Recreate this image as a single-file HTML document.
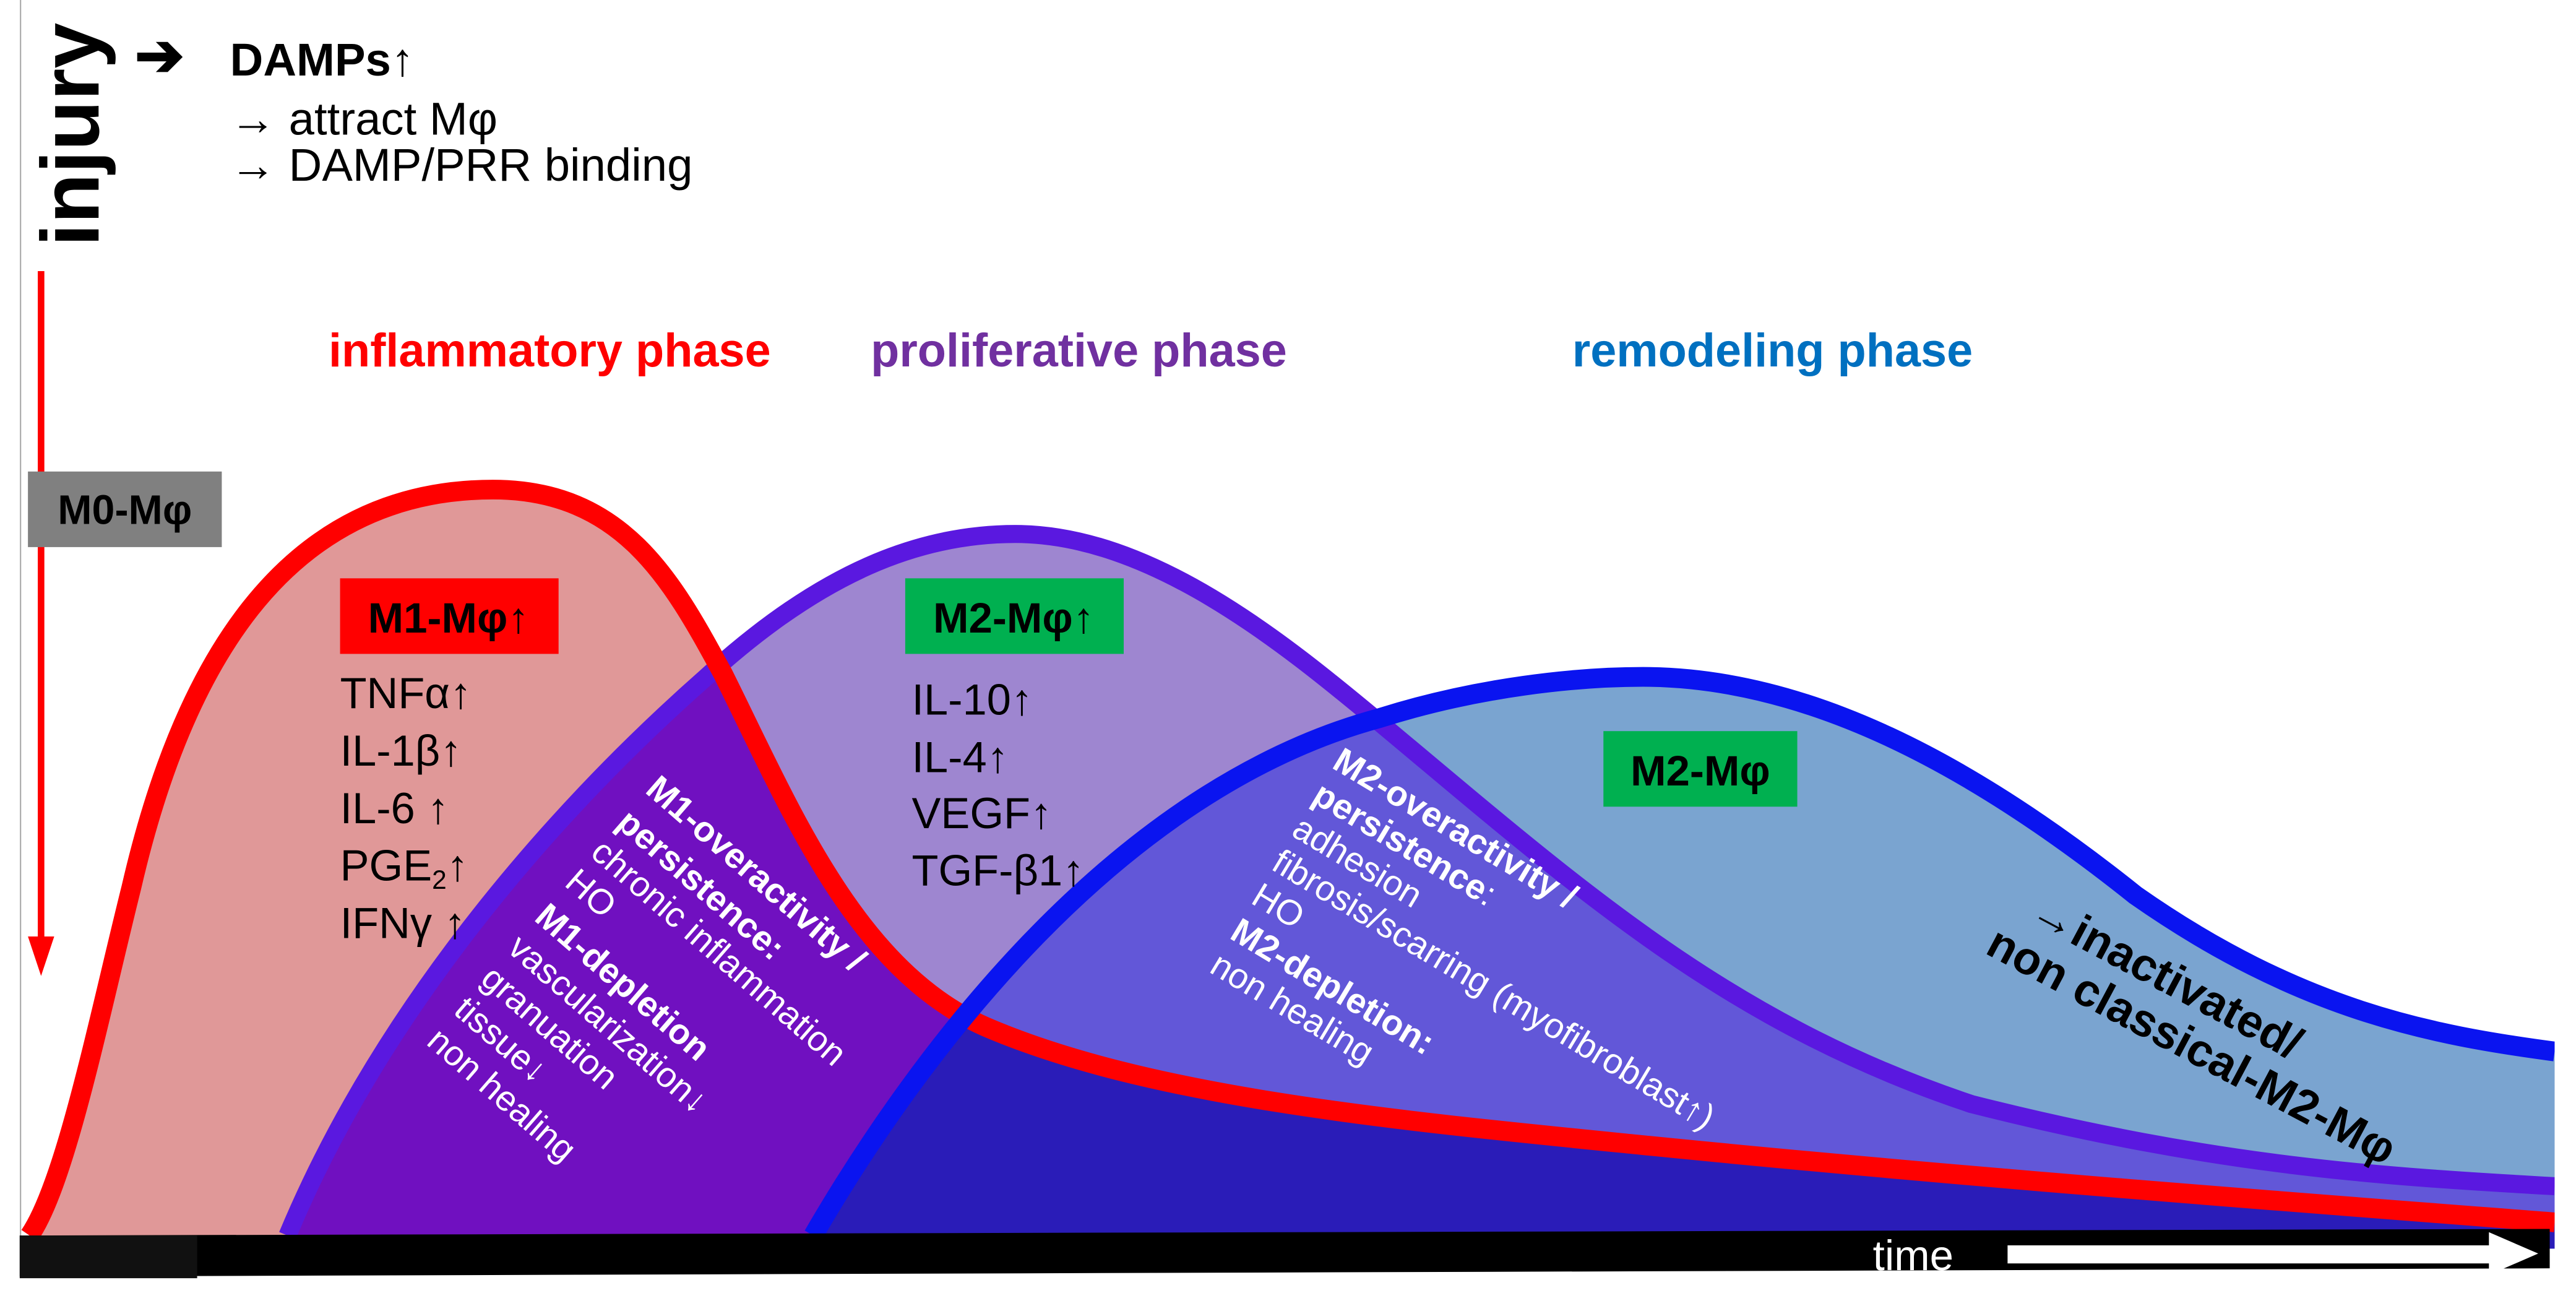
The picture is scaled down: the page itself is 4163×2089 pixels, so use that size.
<!DOCTYPE html>
<html><head><meta charset="utf-8"><style>
html,body{margin:0;padding:0;background:#fff;}
svg{display:block;}
text{font-family:"Liberation Sans",Arial,sans-serif;}
</style></head><body>
<svg width="4163" height="2089" viewBox="0 0 1568 787" preserveAspectRatio="none" xmlns="http://www.w3.org/2000/svg">
<defs>
<path id="red" d="M18,752 C40,720 60,620 80,540 C110,410 170,298 300,298 C380,298 410,355 440,410 C480,490 520,590 600,625 C700,668 850,682 1000,697 C1200,717 1400,732 1555,744 L1555,760 L18,760 Z"/>
<path id="pur" d="M175,760 L175,752 C230,620 330,500 430,412 C500,348 560,325 618,325 C700,325 780,390 840,440 C960,540 1050,622 1200,672 C1350,710 1450,716 1555,722 L1555,760 Z"/>
<path id="blu" d="M495,760 L495,752 C560,640 680,480 840,437 C900,418 960,412 1000,412 C1100,412 1200,465 1300,545 C1400,615 1480,630 1555,640 L1555,760 Z"/>
<clipPath id="cRed"><use href="#red"/></clipPath>
<clipPath id="cPur"><use href="#pur"/></clipPath>
</defs>
<line x1="12.5" y1="0" x2="12.5" y2="752" stroke="#aaa" stroke-width="0.8"/>
<use href="#red" fill="#e09898"/>
<use href="#pur" fill="#9e86d0"/>
<use href="#pur" fill="#7010c0" clip-path="url(#cRed)"/>
<use href="#blu" fill="#7aa4d0"/>
<use href="#blu" fill="#6257d8" clip-path="url(#cPur)"/>
<use href="#blu" fill="#2a1cb8" clip-path="url(#cRed)"/>
<path d="M175,752 C230,620 330,500 430,412 C500,348 560,325 618,325 C700,325 780,390 840,440 C960,540 1050,622 1200,672 C1350,710 1450,716 1555,722" fill="none" stroke="#5a18e0" stroke-width="11"/>
<path d="M18,752 C40,720 60,620 80,540 C110,410 170,298 300,298 C380,298 410,355 440,410 C480,490 520,590 600,625 C700,668 850,682 1000,697 C1200,717 1400,732 1555,744" fill="none" stroke="#ff0000" stroke-width="12"/>
<path d="M495,752 C560,640 680,480 840,437 C900,418 960,412 1000,412 C1100,412 1200,465 1300,545 C1400,615 1480,630 1555,640" fill="none" stroke="#0a14f0" stroke-width="12"/>
<rect x="1555" y="600" width="13" height="160" fill="#fff"/>
<polygon points="12,752 1552,748 1552,772 12,777" fill="#000"/>
<rect x="12" y="752" width="108" height="26" fill="#111"/>
<text x="1140" y="773" font-size="26" fill="#fff">time</text>
<rect x="1222" y="758" width="295" height="11" fill="#fff"/>
<polygon points="1515,750 1545,763 1515,776" fill="#fff"/>
<text transform="translate(60,150) rotate(-90)" font-size="50" font-weight="bold" fill="#000" font-family="DejaVu Sans, sans-serif">injury</text>
<text x="82" y="46" font-size="36" font-weight="bold">➔</text>
<text x="140" y="46" font-size="28" font-weight="bold">DAMPs↑</text>
<text x="140" y="82" font-size="28">→ attract Mφ</text>
<text x="140" y="110" font-size="28">→ DAMP/PRR binding</text>
<line x1="25" y1="165" x2="25" y2="575" stroke="#ff0000" stroke-width="4"/>
<polygon points="17,570 33,570 25,594" fill="#ff0000"/>
<rect x="17" y="287" width="118" height="46" fill="#808080"/>
<text x="76" y="319" font-size="25" font-weight="bold" text-anchor="middle">M0-Mφ</text>
<text x="200" y="223" font-size="28.5" font-weight="bold" fill="#ff0000">inflammatory phase</text>
<text x="530" y="223" font-size="28.5" font-weight="bold" fill="#7030a0">proliferative phase</text>
<text x="957" y="223" font-size="28.5" font-weight="bold" fill="#0070c0">remodeling phase</text>
<rect x="207" y="352" width="133" height="46" fill="#ff0000"/>
<text x="273" y="385" font-size="26" font-weight="bold" text-anchor="middle">M1-Mφ↑</text>
<g font-size="26.5" fill="#000">
<text x="207" y="431">TNFα↑</text>
<text x="207" y="466">IL-1β↑</text>
<text x="207" y="501">IL-6 ↑</text>
<text x="207" y="536">PGE<tspan font-size="16" dy="5">2</tspan><tspan dy="-5">↑</tspan></text>
<text x="207" y="571">IFNγ ↑</text>
</g>
<rect x="551" y="352" width="133" height="46" fill="#00b050"/>
<text x="617" y="385" font-size="26" font-weight="bold" text-anchor="middle">M2-Mφ↑</text>
<g font-size="26.5" fill="#000">
<text x="555" y="435">IL-10↑</text>
<text x="555" y="470">IL-4↑</text>
<text x="555" y="504">VEGF↑</text>
<text x="555" y="539">TGF-β1↑</text>
</g>
<rect x="976" y="445" width="118" height="46" fill="#00b050"/>
<text x="1035" y="478" font-size="26" font-weight="bold" text-anchor="middle">M2-Mφ</text>
<text transform="translate(392,482) rotate(41)" font-size="21.5" fill="#fff">
<tspan x="0" y="0" font-weight="bold">M1-overactivity /</tspan>
<tspan x="0" dy="27" font-weight="bold">persistence:</tspan>
<tspan x="0" dy="24">chronic inflammation</tspan>
<tspan x="0" dy="24">HO</tspan>
<tspan x="0" dy="28" font-weight="bold">M1-depletion</tspan>
<tspan x="0" dy="25">vascularization↓</tspan>
<tspan x="0" dy="25">granuation</tspan>
<tspan x="0" dy="25">tissue↓</tspan>
<tspan x="0" dy="25">non healing</tspan>
</text>
<text transform="translate(810,467) rotate(31)" font-size="21.5" fill="#fff">
<tspan x="0" y="0" font-weight="bold">M2-overactivity /</tspan>
<tspan x="0" dy="24" font-weight="bold">persistence<tspan font-weight="normal">:</tspan></tspan>
<tspan x="0" dy="24">adhesion</tspan>
<tspan x="0" dy="24">fibrosis/scarring (myofibroblast↑)</tspan>
<tspan x="0" dy="24">HO</tspan>
<tspan x="0" dy="25" font-weight="bold">M2-depletion:</tspan>
<tspan x="0" dy="24">non healing</tspan>
</text>
<text transform="translate(1234,560) rotate(28)" font-size="28" font-weight="bold" fill="#000">
<tspan x="0" y="0">→inactivated/</tspan>
<tspan x="-14" dy="30">non classical-M2-Mφ</tspan>
</text>
</svg>
</body></html>
